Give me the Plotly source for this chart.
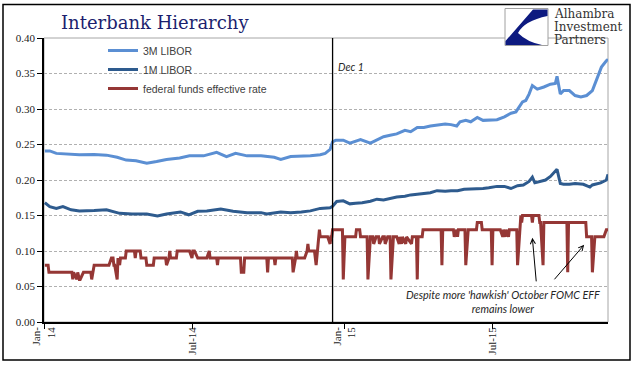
import plotly.graph_objects as go

# ---------------- data ----------------
M3_DATES = ["2014-01-02","2014-01-08","2014-01-16","2014-01-28","2014-02-13","2014-03-03","2014-03-18",
            "2014-03-31","2014-04-11","2014-04-23","2014-05-06","2014-05-18","2014-05-30","2014-06-15",
            "2014-06-27","2014-07-14","2014-07-30","2014-08-11","2014-08-22","2014-09-05","2014-09-22",
            "2014-10-08","2014-10-16","2014-10-28","2014-11-10","2014-11-21","2014-12-03","2014-12-09",
            "2014-12-15","2014-12-18","2014-12-22","2014-12-31","2015-01-08","2015-01-21","2015-02-02",
            "2015-02-10","2015-02-18","2015-02-26","2015-03-06","2015-03-16","2015-03-23","2015-03-31",
            "2015-04-08","2015-04-16","2015-04-24","2015-05-04","2015-05-11","2015-05-18","2015-05-22",
            "2015-05-29","2015-06-04","2015-06-12","2015-06-19","2015-06-26","2015-07-06","2015-07-15",
            "2015-07-23","2015-07-29","2015-08-03","2015-08-06","2015-08-10","2015-08-14","2015-08-18",
            "2015-08-24","2015-09-01","2015-09-09","2015-09-15","2015-09-17","2015-09-21","2015-09-25",
            "2015-10-02","2015-10-09","2015-10-16","2015-10-23","2015-10-30","2015-11-02","2015-11-06",
            "2015-11-10","2015-11-16","2015-11-18"]
M3_VALUES = [0.2407,0.2410,0.2375,0.2366,0.2356,0.2360,0.2350,
             0.2320,0.2280,0.2270,0.2236,0.2260,0.2290,0.2310,
             0.2340,0.2340,0.2390,0.2330,0.2375,0.2340,0.2340,
             0.2320,0.2290,0.2330,0.2330,0.2340,0.2356,0.2375,
             0.2430,0.2537,0.2560,0.2560,0.2520,0.2570,0.2520,
             0.2570,0.2610,0.2630,0.2650,0.2700,0.2680,0.2740,
             0.2740,0.2760,0.2770,0.2790,0.2780,0.2760,0.2820,
             0.2840,0.2820,0.2880,0.2840,0.2840,0.2850,0.2890,
             0.2940,0.2960,0.3050,0.3100,0.3120,0.3210,0.3330,
             0.3280,0.3310,0.3350,0.3360,0.3460,0.3210,0.3260,
             0.3260,0.3190,0.3170,0.3190,0.3260,0.3350,0.3490,
             0.3590,0.3680,0.3700]

M1_DATES = ["2014-01-02","2014-01-08","2014-01-16","2014-01-24","2014-02-03","2014-02-13","2014-03-03",
            "2014-03-18","2014-04-03","2014-04-18","2014-05-06","2014-05-19","2014-05-30","2014-06-16",
            "2014-06-26","2014-07-07","2014-07-18","2014-08-04","2014-08-19","2014-09-05","2014-09-22",
            "2014-09-29","2014-10-16","2014-10-28","2014-11-10","2014-11-21","2014-12-03","2014-12-15",
            "2014-12-18","2014-12-23","2014-12-31","2015-01-08","2015-01-15","2015-01-23","2015-02-02",
            "2015-02-10","2015-02-18","2015-02-26","2015-03-06","2015-03-16","2015-03-23","2015-03-31",
            "2015-04-08","2015-04-16","2015-04-24","2015-05-04","2015-05-11","2015-05-19","2015-05-27",
            "2015-06-04","2015-06-12","2015-06-19","2015-06-26","2015-07-06","2015-07-15","2015-07-23",
            "2015-07-31","2015-08-07","2015-08-14","2015-08-18","2015-08-21","2015-08-28","2015-09-03",
            "2015-09-09","2015-09-15","2015-09-17","2015-09-21","2015-09-25","2015-10-02","2015-10-09",
            "2015-10-19","2015-10-27","2015-10-30","2015-11-09","2015-11-16","2015-11-18"]
M1_VALUES = [0.1680,0.1625,0.1600,0.1625,0.1580,0.1565,0.1570,
             0.1580,0.1530,0.1520,0.1520,0.1495,0.1520,0.1550,
             0.1510,0.1560,0.1565,0.1590,0.1560,0.1540,0.1540,
             0.1520,0.1550,0.1540,0.1550,0.1565,0.1600,0.1610,
             0.1630,0.1697,0.1706,0.1664,0.1673,0.1680,0.1700,
             0.1730,0.1720,0.1740,0.1760,0.1770,0.1790,0.1800,
             0.1810,0.1820,0.1850,0.1840,0.1850,0.1850,0.1870,
             0.1870,0.1880,0.1880,0.1890,0.1910,0.1910,0.1880,
             0.1920,0.1930,0.1980,0.2040,0.1960,0.1980,0.2000,
             0.2050,0.2120,0.2150,0.1950,0.1940,0.1940,0.1950,
             0.1940,0.1900,0.1930,0.1960,0.2000,0.2080]

FF_DATES = ["2014-01-02","2014-01-06","2014-01-07","2014-02-04","2014-02-05","2014-02-06","2014-02-10",
            "2014-02-11","2014-02-13","2014-02-14","2014-02-18","2014-02-27","2014-02-28","2014-03-03",
            "2014-03-21","2014-03-24","2014-03-26","2014-03-27","2014-03-28","2014-03-31","2014-04-01",
            "2014-04-03","2014-04-04","2014-04-10","2014-04-11","2014-04-21","2014-04-22","2014-04-23",
            "2014-04-28","2014-04-29","2014-05-05","2014-05-06","2014-05-14","2014-05-15","2014-05-29",
            "2014-05-30","2014-06-02","2014-06-03","2014-06-04","2014-06-11","2014-06-12","2014-06-27",
            "2014-06-30","2014-07-01","2014-07-03","2014-07-07","2014-07-18","2014-07-21","2014-07-22",
            "2014-07-30","2014-07-31","2014-08-01","2014-08-28","2014-08-29","2014-09-01","2014-09-02",
            "2014-09-29","2014-09-30","2014-10-01","2014-10-08","2014-10-09","2014-10-10","2014-10-30",
            "2014-10-31","2014-11-03","2014-11-04","2014-11-05","2014-11-14","2014-11-17","2014-11-18",
            "2014-11-19","2014-11-26","2014-11-28","2014-12-01","2014-12-02","2014-12-03","2014-12-12",
            "2014-12-15","2014-12-16","2014-12-17","2014-12-18","2014-12-30","2014-12-31","2015-01-02",
            "2015-01-15","2015-01-16","2015-01-20","2015-01-21","2015-01-29","2015-01-30","2015-02-02",
            "2015-02-05","2015-02-06","2015-02-09","2015-02-12","2015-02-13","2015-02-17","2015-02-19",
            "2015-02-20","2015-02-23","2015-02-26","2015-02-27","2015-03-02","2015-03-06","2015-03-09",
            "2015-03-10","2015-03-12","2015-03-13","2015-03-17","2015-03-18","2015-03-24","2015-03-25",
            "2015-03-30","2015-03-31","2015-04-01","2015-04-06","2015-04-07","2015-04-29","2015-04-30",
            "2015-05-01","2015-05-14","2015-05-15","2015-05-18","2015-05-19","2015-05-20","2015-05-28",
            "2015-05-29","2015-06-01","2015-06-11","2015-06-12","2015-06-17","2015-06-18","2015-06-29",
            "2015-06-30","2015-07-01","2015-07-10","2015-07-13","2015-07-14","2015-07-16","2015-07-17",
            "2015-07-20","2015-07-21","2015-07-30","2015-07-31","2015-08-03","2015-08-04","2015-08-05",
            "2015-08-06","2015-08-17","2015-08-18","2015-08-19","2015-08-26","2015-08-27","2015-08-28",
            "2015-08-31","2015-09-01","2015-09-29","2015-09-30","2015-10-01","2015-10-22","2015-10-23",
            "2015-10-29","2015-10-30","2015-11-02","2015-11-13","2015-11-16","2015-11-18"]
FF_VALUES = [0.08,0.08,0.07,0.07,0.06,0.07,0.06,
             0.07,0.06,0.06,0.07,0.07,0.06,0.08,
             0.08,0.09,0.09,0.08,0.08,0.06,0.09,
             0.08,0.09,0.09,0.10,0.10,0.09,0.10,
             0.10,0.09,0.09,0.08,0.08,0.09,0.09,
             0.08,0.09,0.10,0.09,0.09,0.10,0.10,
             0.09,0.10,0.10,0.09,0.09,0.10,0.09,
             0.09,0.08,0.09,0.09,0.07,0.07,0.09,
             0.09,0.07,0.09,0.09,0.08,0.09,0.09,
             0.07,0.09,0.10,0.09,0.09,0.10,0.11,
             0.10,0.10,0.08,0.12,0.13,0.12,0.12,
             0.11,0.12,0.12,0.13,0.13,0.06,0.12,
             0.12,0.13,0.13,0.12,0.12,0.06,0.12,
             0.12,0.11,0.12,0.12,0.11,0.12,0.12,
             0.11,0.12,0.12,0.06,0.12,0.12,0.11,
             0.12,0.11,0.12,0.11,0.12,0.11,0.12,
             0.12,0.06,0.12,0.12,0.13,0.13,0.08,
             0.13,0.13,0.12,0.13,0.12,0.13,0.13,
             0.08,0.13,0.13,0.14,0.14,0.13,0.13,
             0.08,0.13,0.13,0.12,0.13,0.12,0.13,
             0.12,0.13,0.13,0.08,0.14,0.15,0.14,
             0.15,0.15,0.14,0.15,0.15,0.14,0.14,
             0.08,0.14,0.14,0.07,0.14,0.14,0.12,
             0.12,0.07,0.12,0.12,0.13,0.13]

SERIES_NAMES = ["3M LIBOR", "1M LIBOR", "federal funds effective rate"]
X_TICK_VALS = ["2014-01-01", "2014-07-01", "2015-01-01", "2015-07-01"]
X_TICK_TEXT = ["Jan-<br>14", "Jul-14", "Jan-<br>15", "Jul-15"]
X_RANGE = ["2014-01-01", "2015-11-18"]
MARKER_LINE_DATE = "2014-12-18"
ARROW1 = ("2015-08-18", 0.1185)
ARROW2 = ("2015-10-20", 0.1087)

# ---------------- layout geometry ----------------
W, H = 641, 375
PAGE_OFF = 0                      # page margin removed by post_script below
L, T = 44, 38
PW, PH = 564, 284
R, B = W - L - PW, H - T - PH
SX0, SY1 = L + PAGE_OFF, T + PAGE_OFF + PH   # screen left / bottom of plot area


def px(x):
    return (x - SX0) / PW


def py(y):
    return (SY1 - y) / PH


fig = go.Figure()
fig.add_trace(go.Scatter(x=M3_DATES, y=M3_VALUES, name=SERIES_NAMES[0], mode="lines",
                         line=dict(color="#5B8FD3", width=3)))
fig.add_trace(go.Scatter(x=M1_DATES, y=M1_VALUES, name=SERIES_NAMES[1], mode="lines",
                         line=dict(color="#2E5B8E", width=3)))
fig.add_trace(go.Scatter(x=FF_DATES, y=FF_VALUES, name=SERIES_NAMES[2], mode="lines",
                         line=dict(color="#953735", width=3)))

shapes = [
    dict(type="rect", xref="paper", yref="paper", x0=0, x1=1, y0=0, y1=1,
         line=dict(color="#A6A6A6", width=1), layer="below"),
    dict(type="rect", xref="paper", yref="paper", x0=px(3), x1=px(630), y0=py(360), y1=py(4.5),
         line=dict(color="black", width=1.5)),
    dict(type="line", xref="x", yref="paper", x0=MARKER_LINE_DATE, x1=MARKER_LINE_DATE, y0=0, y1=1,
         line=dict(color="black", width=1.3)),
    dict(type="rect", xref="paper", yref="paper", x0=px(505), x1=px(548), y0=py(45.5), y1=py(8.5),
         line=dict(color="#A0A0A0", width=1), fillcolor="white"),
]


def pth(cmds):
    out = []
    for c in cmds:
        if c[0] in ("M", "L"):
            out.append(f"{c[0]} {px(c[1]):.5f},{py(c[2]):.5f}")
        elif c[0] == "Q":
            out.append(f"Q {px(c[1]):.5f},{py(c[2]):.5f} {px(c[3]):.5f},{py(c[4]):.5f}")
        elif c[0] == "Z":
            out.append("Z")
    return " ".join(out)


logo_path = pth([("M", 533, 9.5), ("L", 547.5, 9.5), ("L", 547.5, 16), ("Q", 524, 21, 518, 33),
                 ("Q", 527, 42, 542, 45), ("L", 505.5, 45), ("L", 505.5, 41), ("Z",)])
shapes.append(dict(type="path", xref="paper", yref="paper", path=logo_path,
                   fillcolor="#0D1A80", line=dict(width=0)))

LOGO_FONT = dict(family="DejaVu Serif", size=12, color="#333333")
annotations = [
    dict(text="Interbank Hierarchy", xref="paper", yref="paper", x=px(59), y=py(22),
         xanchor="left", yanchor="middle", showarrow=False,
         font=dict(family="DejaVu Serif", size=18, color="#1C1F6E")),
    dict(text="Alhambra", xref="paper", yref="paper", x=px(552), y=py(14),
         xanchor="left", yanchor="middle", showarrow=False, font=LOGO_FONT),
    dict(text="Investment", xref="paper", yref="paper", x=px(552), y=py(27),
         xanchor="left", yanchor="middle", showarrow=False, font=LOGO_FONT),
    dict(text="Partners", xref="paper", yref="paper", x=px(552), y=py(40),
         xanchor="left", yanchor="middle", showarrow=False, font=LOGO_FONT),
    dict(text="Dec 1", xref="paper", yref="paper", x=px(336), y=py(66.5),
         xanchor="left", yanchor="middle", showarrow=False,
         font=dict(family="Lato", size=10.5, color="#262626", style="italic")),
    dict(text="Despite more 'hawkish' October FOMC EFF<br>remains lower", xref="paper", yref="paper",
         x=px(503), y=py(301), xanchor="center", yanchor="middle", showarrow=False, align="center",
         font=dict(family="Lato", size=10.8, color="#262626", style="italic")),
    dict(text="", x=ARROW1[0], y=ARROW1[1], xref="x", yref="y", showarrow=True,
         ax=4, ay=45, arrowhead=5, arrowsize=1, arrowwidth=1, arrowcolor="black"),
    dict(text="", x=ARROW2[0], y=ARROW2[1], xref="x", yref="y", showarrow=True,
         ax=-31, ay=36, arrowhead=5, arrowsize=1, arrowwidth=1, arrowcolor="black"),
]

fig.update_layout(
    width=W, height=H,
    margin=dict(l=L, r=R, t=T, b=B, pad=0, autoexpand=False),
    paper_bgcolor="white", plot_bgcolor="white",
    shapes=shapes, annotations=annotations,
    showlegend=True,
    legend=dict(x=px(103), y=py(36), xanchor="left", yanchor="top",
                bgcolor="rgba(0,0,0,0)", borderwidth=0,
                font=dict(family="Liberation Sans", size=10.5, color="#404040"),
                itemwidth=30, tracegroupgap=0),
    xaxis=dict(type="date", range=X_RANGE, tickvals=X_TICK_VALS, ticktext=X_TICK_TEXT,
               tickangle=-90, ticks="outside", ticklen=5, tickcolor="black", tickwidth=1,
               automargin=False, ticklabelstandoff=-6,
               showgrid=False, showline=True, linecolor="black", linewidth=1.5, zeroline=False,
               tickfont=dict(family="Liberation Serif", size=11, color="#222222")),
    yaxis=dict(range=[0, 0.4], dtick=0.05, tick0=0, tickformat=".2f",
               ticks="outside", ticklen=5, tickcolor="black", tickwidth=1,
               automargin=False,
               showgrid=True, gridcolor="#B0B0B0", gridwidth=1, griddash="3px,2px",
               showline=True, linecolor="black", linewidth=1.5, zeroline=False,
               tickfont=dict(family="Liberation Serif", size=11, color="#222222")),
)

fig.write_html("out.html", config={"displayModeBar": False},
               post_script="document.body.style.margin='0px';")
